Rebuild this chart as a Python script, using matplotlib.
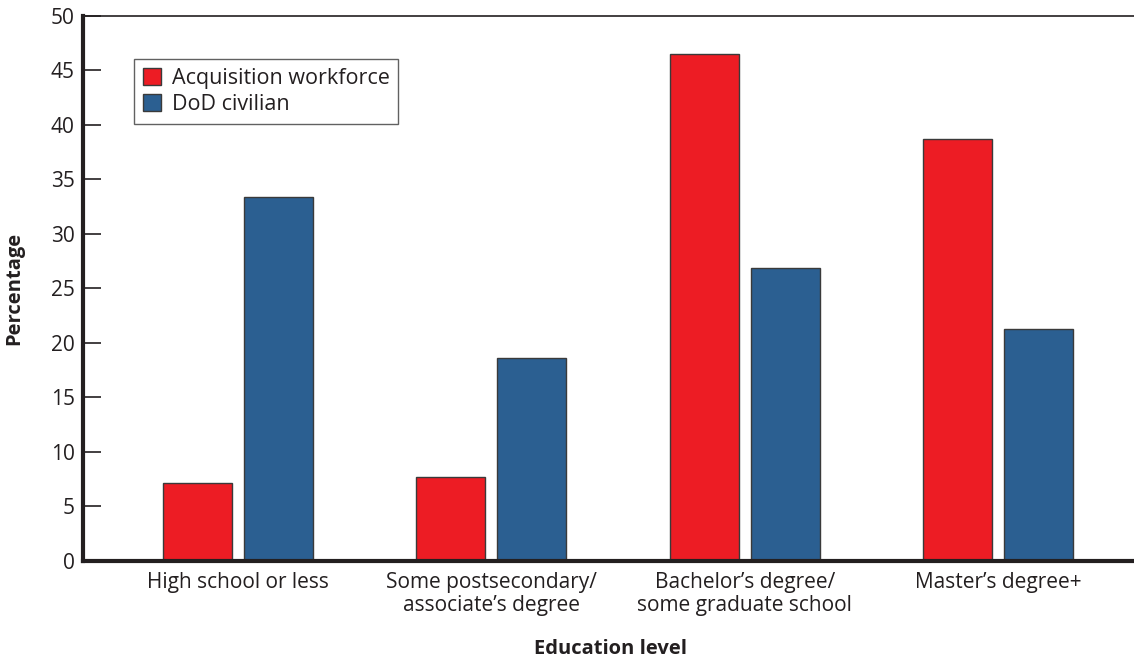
import matplotlib
matplotlib.use("Agg")
import matplotlib.pyplot as plt
import numpy as np

# Education levels and shares (percent) for the two workforces
levels = ["High school or less", "Some postsecondary/\nassociate\u2019s degree",
          "Bachelor\u2019s degree/\nsome graduate school", "Master\u2019s degree+"]
acquisition = [7.2, 7.7, 46.5, 38.7]
dod_civilian = [33.4, 18.6, 26.9, 21.3]
y_ticks = [0, 5, 10, 15, 20, 25, 30, 35, 40, 45, 50]

plt.rcParams["font.family"] = ["Open Sans", "DejaVu Sans"]

fig = plt.figure(figsize=(11.34, 6.6), dpi=100)
ax = fig.add_axes([0.0732, 0.15, 0.9268, 0.8258])

x = np.arange(len(levels))
width = 0.272
offset = 0.16
ax.bar(x - offset, acquisition, width, color="#ED1C24", edgecolor="#3a3a3a",
       linewidth=1, label="Acquisition workforce", zorder=2)
ax.bar(x + offset, dod_civilian, width, color="#2B5F91", edgecolor="#3a3a3a",
       linewidth=1, label="DoD civilian", zorder=2)

ax.set_xlim(-0.611, 3.535)
ax.set_ylim(0, 50)
ax.set_yticks(y_ticks)
ax.set_xticks(x)
ax.set_xticklabels(levels, fontsize=15, color="#231f20", linespacing=1.1)
ax.tick_params(axis="x", length=0, pad=8)
ax.tick_params(axis="y", direction="in", length=13, width=1.2, labelsize=15,
               labelcolor="#231f20", color="#231f20", pad=6)

# spines: thick left/bottom, thin top, none on the right
ax.spines["left"].set_linewidth(3)
ax.spines["bottom"].set_linewidth(3)
ax.spines["left"].set_color("#231f20")
ax.spines["bottom"].set_color("#231f20")
ax.spines["top"].set_linewidth(1.2)
ax.spines["top"].set_color("#231f20")
ax.spines["right"].set_visible(False)

# axis titles placed in figure coordinates
fig.text(0.013, 0.563, "Percentage", rotation=90, ha="center", va="center",
         fontsize=14.5, fontweight="bold", color="#231f20")
fig.text(0.538, 0.016, "Education level", ha="center", va="center",
         fontsize=14.5, fontweight="bold", color="#231f20")

leg = ax.legend(loc="upper left", bbox_to_anchor=(0.0485, 0.921), fontsize=15.5,
                frameon=True, fancybox=False, edgecolor="#3a3a3a", handlelength=0.85,
                handleheight=0.85, handletextpad=0.5, borderpad=0.4, labelspacing=0.25,
                borderaxespad=0)
leg.get_frame().set_linewidth(1)
for t in leg.get_texts():
    t.set_color("#231f20")

fig.savefig("out.png", dpi=100)
